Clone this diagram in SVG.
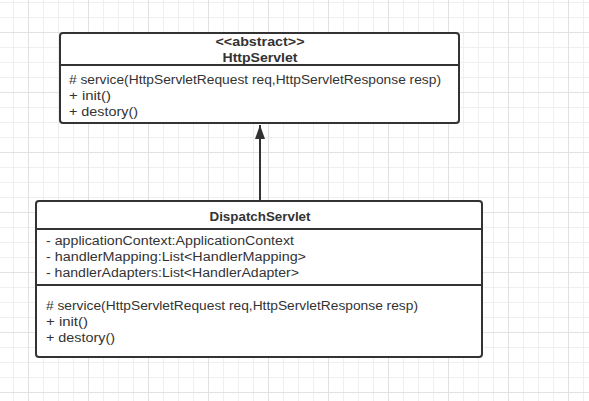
<svg xmlns="http://www.w3.org/2000/svg" width="589" height="401" viewBox="0 0 589 401">
<defs>
<pattern id="minor" patternUnits="userSpaceOnUse" x="13" y="2" width="15" height="15">
<rect x="0" y="0" width="1" height="15" fill="#efefef"/>
<rect x="0" y="0" width="15" height="1" fill="#efefef"/>
</pattern>
<pattern id="major" patternUnits="userSpaceOnUse" x="28" y="32" width="60" height="60">
<rect x="0" y="0" width="1" height="60" fill="#e2e2e2"/>
<rect x="0" y="0" width="60" height="1" fill="#e2e2e2"/>
</pattern>
<marker id="tri" markerUnits="userSpaceOnUse" markerWidth="14" markerHeight="10" refX="14" refY="5" orient="auto" viewBox="0 0 14 10">
<path d="M0,0 L14,5 L0,10 Z" fill="#333"/>
</marker>
</defs>
<style>
.box{fill:#fff;stroke:#333;stroke-width:2}
.sep{stroke:#333;stroke-width:2}
.t{font-family:"Liberation Sans","Noto Sans",sans-serif;font-size:12.5px;fill:#333}
.b{font-weight:bold;text-anchor:middle}
</style>
<rect width="589" height="401" fill="#fff"/>
<rect width="589" height="401" fill="url(#minor)"/>
<rect width="589" height="401" fill="url(#major)"/>

<g id="connectors">
<line x1="260" y1="201" x2="260" y2="125" stroke="#333" stroke-width="2" marker-end="url(#tri)"/>
</g>

<g id="HttpServlet">
<rect class="box" x="60" y="33" width="399" height="90" rx="3"/>
<line class="sep" x1="60" y1="65" x2="459" y2="65"/>
<text class="t b" x="260" y="46" textLength="89" lengthAdjust="spacingAndGlyphs">&lt;&lt;abstract&gt;&gt;</text>
<text class="t b" x="260" y="62" textLength="75" lengthAdjust="spacingAndGlyphs">HttpServlet</text>
<text class="t" x="69" y="84" textLength="372" lengthAdjust="spacingAndGlyphs"># service(HttpServletRequest req,HttpServletResponse resp)</text>
<text class="t" x="69" y="100" textLength="42" lengthAdjust="spacingAndGlyphs">+ init()</text>
<text class="t" x="69" y="116" textLength="69" lengthAdjust="spacingAndGlyphs">+ destory()</text>
</g>

<g id="DispatchServlet">
<rect class="box" x="36" y="201" width="446" height="156" rx="3"/>
<line class="sep" x1="36" y1="229" x2="482" y2="229"/>
<line class="sep" x1="36" y1="285" x2="482" y2="285"/>
<text class="t b" x="260" y="221" textLength="101" lengthAdjust="spacingAndGlyphs">DispatchServlet</text>
<text class="t" x="46" y="245" textLength="248" lengthAdjust="spacingAndGlyphs">- applicationContext:ApplicationContext</text>
<text class="t" x="46" y="261" textLength="260" lengthAdjust="spacingAndGlyphs">- handlerMapping:List&lt;HandlerMapping&gt;</text>
<text class="t" x="46" y="277" textLength="253" lengthAdjust="spacingAndGlyphs">- handlerAdapters:List&lt;HandlerAdapter&gt;</text>
<text class="t" x="46" y="310" textLength="372" lengthAdjust="spacingAndGlyphs"># service(HttpServletRequest req,HttpServletResponse resp)</text>
<text class="t" x="46" y="326" textLength="42" lengthAdjust="spacingAndGlyphs">+ init()</text>
<text class="t" x="46" y="342" textLength="69" lengthAdjust="spacingAndGlyphs">+ destory()</text>
</g>
</svg>
